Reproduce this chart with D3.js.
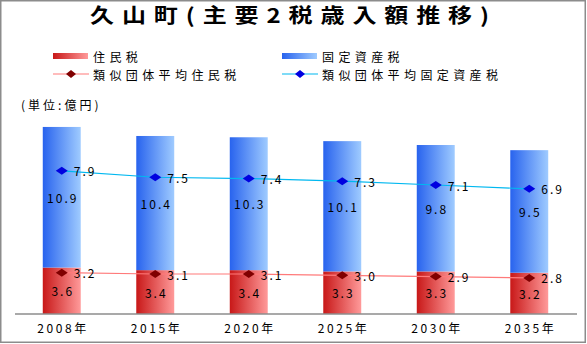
<!DOCTYPE html>
<html>
<head>
<meta charset="utf-8">
<script src="https://cdn.jsdelivr.net/npm/d3@7"></script>
<style>
  html, body { margin: 0; padding: 0; background: #fff; }
  svg { display: block; }
  text { font-family: "Noto Sans CJK JP", "Noto Sans", sans-serif; fill: #000; }
</style>
</head>
<body>
<svg id="chart" width="587" height="344"></svg>
<script>
// Fiscal years shown on the x axis
const years = ["2008年", "2015年", "2020年", "2025年", "2030年", "2035年"];
// Town tax revenue (億円)
const residentTax = [3.6, 3.4, 3.4, 3.3, 3.3, 3.2];
const propertyTax = [10.9, 10.4, 10.3, 10.1, 9.8, 9.5];
// Averages of comparable municipalities (億円)
const avgResidentTax = [3.2, 3.1, 3.1, 3.0, 2.9, 2.8];
const avgPropertyTax = [7.9, 7.5, 7.4, 7.3, 7.1, 6.9];

const titleText = "久山町(主要2税歳入額推移)";
const unitText = "(単位:億円)";
const legendItems = [
  { label: "住民税", kind: "bar", grad: "gradRed" },
  { label: "固定資産税", kind: "bar", grad: "gradBlue" },
  { label: "類似団体平均住民税", kind: "line", line: "#ff7a7a", dot: "#800000" },
  { label: "類似団体平均固定資産税", kind: "line", line: "#00b8f0", dot: "#0000e0" }
];

const svg = d3.select("#chart");
const W = 587, H = 344;

// Gradients for the bars (dark on the left, light on the right)
const defs = svg.append("defs");
function addGradient(id, from, to) {
  const g = defs.append("linearGradient").attr("id", id)
    .attr("x1", "0%").attr("y1", "0%").attr("x2", "100%").attr("y2", "0%");
  g.append("stop").attr("offset", "0%").attr("stop-color", from);
  g.append("stop").attr("offset", "100%").attr("stop-color", to);
}
addGradient("gradBlue", "#2863ee", "#9fcbff");
addGradient("gradRed", "#c81818", "#ff9a9a");

// Outer frame
svg.append("rect")
  .attr("x", 0.75).attr("y", 0.75).attr("width", W - 2.5).attr("height", H - 2.5)
  .attr("fill", "none").attr("stroke", "#8c8c8c").attr("stroke-width", 1.5);

// Title
svg.append("g")
  .attr("transform", "translate(90,23) scale(1.2,1)")
  .append("text")
  .attr("x", 0).attr("y", 0)
  .style("font-size", "20px").style("font-weight", "bold")
  .style("letter-spacing", "6.6px")
  .text(titleText);

// Scales
const baseY = 314;
const x = d3.scaleBand().domain(years).range([15, 576])
  .paddingInner(0.594).paddingOuter(0.297);
const y = d3.scaleLinear().domain([0, 16]).range([baseY, baseY - 16 * 12.9]);

const rows = years.map((yr, i) => ({
  year: yr,
  res: residentTax[i],
  prop: propertyTax[i],
  avgRes: avgResidentTax[i],
  avgProp: avgPropertyTax[i]
}));

// Stacked bars
const barG = svg.append("g");
barG.selectAll("rect.res").data(rows).join("rect")
  .attr("class", "res")
  .attr("x", d => x(d.year)).attr("width", x.bandwidth())
  .attr("y", d => y(d.res)).attr("height", d => y(0) - y(d.res))
  .attr("fill", "url(#gradRed)");
barG.selectAll("rect.prop").data(rows).join("rect")
  .attr("class", "prop")
  .attr("x", d => x(d.year)).attr("width", x.bandwidth())
  .attr("y", d => y(d.res + d.prop)).attr("height", d => y(d.res) - y(d.res + d.prop))
  .attr("fill", "url(#gradBlue)");

// X axis line and labels
const xAxis = d3.axisBottom(x).tickSize(0).tickPadding(15);
const axG = svg.append("g").attr("transform", `translate(0,${baseY})`).call(xAxis);
axG.select(".domain").attr("stroke", "#8c8c8c").attr("stroke-width", 1.5)
  .attr("d", "M15,0H577");
axG.selectAll(".tick text")
  .style("font-family", "\"Noto Sans CJK JP\", sans-serif")
  .style("font-size", "12px").style("letter-spacing", "2.6px")
  .attr("fill", "#000").attr("dx", "1.3px").attr("dy", "0.3em");

// Value labels inside bar segments
const fmt = d3.format(".1f");
const labelStyle = sel => sel
  .style("font-size", "12px").style("letter-spacing", "2px")
  .attr("dominant-baseline", "central");
barG.selectAll("text.resv").data(rows).join("text")
  .attr("class", "resv").call(labelStyle)
  .attr("text-anchor", "middle")
  .attr("x", d => x(d.year) + x.bandwidth() / 2 + 1)
  .attr("y", d => (y(0) + y(d.res)) / 2)
  .text(d => fmt(d.res));
barG.selectAll("text.propv").data(rows).join("text")
  .attr("class", "propv").call(labelStyle)
  .attr("text-anchor", "middle")
  .attr("x", d => x(d.year) + x.bandwidth() / 2 + 1)
  .attr("y", d => (y(d.res) + y(d.res + d.prop)) / 2)
  .text(d => fmt(d.prop));

// Average lines (stacked: property average sits on top of resident average)
const cx = d => x(d.year) + x.bandwidth() / 2;
const diamond = "M0,-4L6,0L0,4L-6,0Z";
function drawSeries(accY, value, lineColor, dotColor) {
  const g = svg.append("g");
  g.append("path").datum(rows)
    .attr("fill", "none").attr("stroke", lineColor).attr("stroke-width", 1.2)
    .attr("d", d3.line().x(cx).y(d => y(accY(d))));
  g.selectAll("path.dot").data(rows).join("path")
    .attr("class", "dot")
    .attr("transform", d => `translate(${cx(d)},${y(accY(d))})`)
    .attr("d", diamond).attr("fill", dotColor);
  g.selectAll("text").data(rows).join("text")
    .call(labelStyle)
    .attr("x", d => cx(d) + 12)
    .attr("y", d => y(accY(d)))
    .text(d => fmt(value(d)));
}
drawSeries(d => d.avgRes, d => d.avgRes, "#ff7a7a", "#800000");
drawSeries(d => d.avgRes + d.avgProp, d => d.avgProp, "#00b8f0", "#0000e0");

// Unit label
svg.append("text")
  .attr("x", 21).attr("y", 104)
  .attr("dominant-baseline", "central")
  .style("font-size", "12px").style("letter-spacing", "3px")
  .text(unitText);

// Legend
const legendPos = [
  { x: 53, y: 56 }, { x: 282, y: 56 },
  { x: 53, y: 74 }, { x: 282, y: 74 }
];
const lg = svg.append("g");
legendItems.forEach((item, i) => {
  const p = legendPos[i];
  if (item.kind === "bar") {
    lg.append("rect").attr("x", p.x).attr("y", p.y - 3).attr("width", 35).attr("height", 6)
      .attr("fill", `url(#${item.grad})`);
  } else {
    lg.append("line").attr("x1", p.x).attr("x2", p.x + 36).attr("y1", p.y).attr("y2", p.y)
      .attr("stroke", item.line).attr("stroke-width", 1.2);
    lg.append("path").attr("transform", `translate(${p.x + 18},${p.y})`)
      .attr("d", "M0,-4L5,0L0,4L-5,0Z").attr("fill", item.dot);
  }
  lg.append("text")
    .attr("x", p.x + 40).attr("y", p.y)
    .attr("dominant-baseline", "central")
    .style("font-size", "12px").style("letter-spacing", "4.4px")
    .text(item.label);
});
</script>
</body>
</html>
